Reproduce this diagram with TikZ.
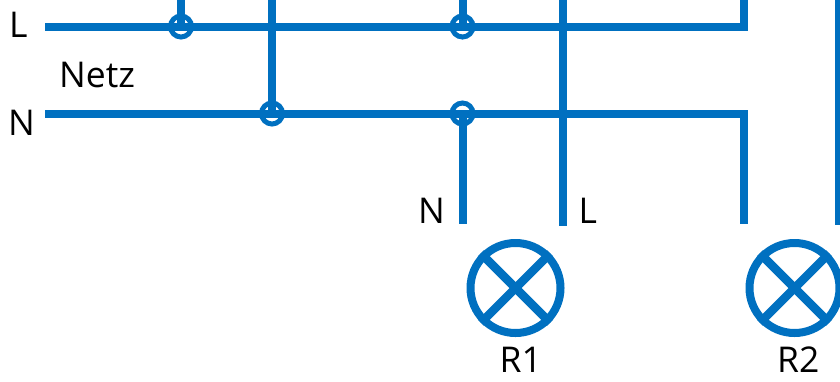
\documentclass[tikz,border=0pt]{standalone}
\usepackage{fontspec}
\setmainfont{Open Sans}
\definecolor{wire}{HTML}{0070C0}
\tikzset{
  x=1pt,y=-1pt,
  wireline/.style={draw=wire,line width=8pt,line cap=butt,line join=miter},
  joint/.style={circle,draw=wire,line width=5pt,minimum size=21pt,inner sep=0pt},
  lamp/.style={circle,draw=wire,line width=8pt,minimum size=90pt,inner sep=0pt},
  lampcross/.style={draw=wire,line width=8.5pt},
  label/.style={inner sep=0pt,anchor=base west,text=black,font=\fontsize{35.5}{35.5}\selectfont},
}
\begin{document}
\begin{tikzpicture}
\useasboundingbox (0,0) rectangle (840,381);
\clip (0,0) rectangle (840,381);
% free ends
\coordinate (Lstart) at (45,27);
\coordinate (Nstart) at (45,113.5);
\coordinate (Lcorner) at (744,27);
\coordinate (Ncorner) at (744,113.5);
\coordinate (t1) at (181,-5);
\coordinate (t2) at (272,-5);
\coordinate (t3) at (462.5,-5);
\coordinate (t4) at (563,-5);
\coordinate (t5) at (744,-5);
\coordinate (t6) at (838.5,-5);
\coordinate (b3) at (462.5,224);
\coordinate (b4) at (563,226);
\coordinate (b5) at (744,224);
\coordinate (b6) at (838.5,225);
% junctions
\node[joint] (j1) at (181,26.5) {};
\node[joint] (j2) at (272,113.5) {};
\node[joint] (j3) at (462.5,26.5) {};
\node[joint] (j4) at (462.5,113.5) {};
% wires
\draw[wireline] (Lstart) -- (Lcorner) -- (t5);
\draw[wireline] (Nstart) -- (Ncorner) -- (b5);
\draw[wireline] (t1) -- (j1.center);
\draw[wireline] (t2) -- (j2.center);
\draw[wireline] (t3) -- (j3.center);
\draw[wireline] (j4.center) -- (b3);
\draw[wireline] (t4) -- (b4);
\draw[wireline] (t6) -- (b6);
% lamps
\node[lamp] (r1) at (515.5,288) {};
\node[lamp] (r2) at (794.5,288) {};
\draw[lampcross] (r1.north west) -- (r1.south east);
\draw[lampcross] (r1.north east) -- (r1.south west);
\draw[lampcross] (r2.north west) -- (r2.south east);
\draw[lampcross] (r2.north east) -- (r2.south west);
% labels
\node[label] (lL) at (9,37) {L};
\node[label] (lNetz) at (59,87) {Netz};
\node[label] (lN) at (8,135) {N};
\node[label] (lN2) at (418,223) {N};
\node[label] (lL2) at (578.5,223) {L};
\node[label] (lR1) at (499.5,372) {R1};
\node[label] (lR2) at (777,372) {R2};
\end{tikzpicture}
\end{document}
